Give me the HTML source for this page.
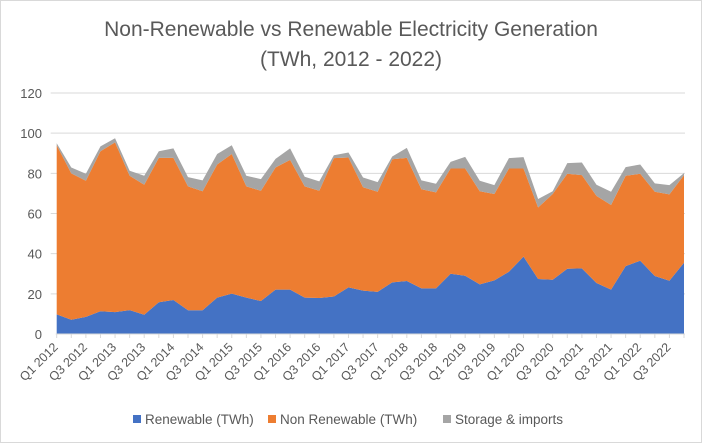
<!DOCTYPE html>
<html><head><meta charset="utf-8"><style>
html,body{margin:0;padding:0;background:#fff;}
svg{display:block;font-family:"Liberation Sans",sans-serif;}
</style></head><body>
<svg id="chart" width="702" height="443" viewBox="0 0 702 443">
<rect x="0.5" y="0.5" width="701" height="442" fill="#fff" stroke="#d9d9d9"/>
<text x="351" y="36" text-anchor="middle" font-size="21" fill="#595959">Non-Renewable vs Renewable Electricity Generation</text>
<text x="351" y="66" text-anchor="middle" font-size="21" fill="#595959">(TWh, 2012 - 2022)</text>
<g id="grid"></g>
<g id="areas"></g>
<g id="axes"></g>
<g id="legend"></g>
</svg>
<script>
const categories = [];
for (let y = 2012; y <= 2022; y++) for (let q = 1; q <= 4; q++) categories.push('Q' + q + ' ' + y);
const renewable = [9.8,7.1,8.5,11.3,10.9,11.9,9.6,15.8,16.9,11.8,11.8,18.1,20.1,18.1,16.4,22.1,22.1,18.1,17.9,18.7,23.2,21.6,21,25.7,26.4,22.7,22.7,30,29,24.7,26.7,31,38.5,27.4,27,32.5,32.7,25.4,22.1,33.8,36.5,28.9,26.5,35.5];
const nonRenewable = [84.2,72.9,67.8,79.7,84.5,66.9,64.7,71.9,70.8,61.7,59.3,66.3,69.5,55.4,54.9,60.8,64.6,55.4,53.4,68.9,64.7,51.5,49.8,61.3,61.3,49.4,47.8,52.4,53.4,46.4,43,51.4,43.9,35.6,42.7,47.3,46.4,43.4,42.1,45,43.3,41.9,43,43.6];
const storage = [1,2.9,3.5,2.4,2.1,2.5,4.5,3.3,4.7,4.6,5.4,5.2,4.4,5.3,5.8,4.3,5.7,4.8,4.7,1.4,2.5,4.8,4.8,1.4,5,4.4,4.3,3.3,5.8,5.2,4.4,5.2,5.7,4.2,1.4,5.3,6.3,5.5,6.6,4.3,4.6,4.2,4.6,1];
const yTicks = [0,20,40,60,80,100,120];
const seriesNames = ['Renewable (TWh)','Non Renewable (TWh)','Storage & imports'];
const colors = ['#4472c4','#ed7d31','#a5a5a5'];

const X0 = 56.7, X1 = 684, Y0 = 334, Y120 = 93;
const xPos = i => X0 + (X1 - X0) * i / (categories.length - 1);
const yPos = v => Y0 - (Y0 - Y120) * v / 120;
const NS = 'http://www.w3.org/2000/svg';
const mk = (tag, attrs, parent) => { const e = document.createElementNS(NS, tag); for (const k in attrs) e.setAttribute(k, attrs[k]); parent.appendChild(e); return e; };

const grid = document.getElementById('grid'), axes = document.getElementById('axes'), areas = document.getElementById('areas'), legend = document.getElementById('legend');
yTicks.forEach(t => {
  if (t > 0) {
    const l = mk('line', {x1: X0 - 6, x2: X1 + 1, y1: yPos(t), y2: yPos(t), stroke: '#d9d9d9', 'stroke-width': 1}, grid);
    
    
  }
  const tx = mk('text', {x: 42, y: yPos(t) + 5, 'text-anchor': 'end', 'font-size': 13, fill: '#595959'}, axes);
  tx.textContent = t;
  
  
});

const stacks = [renewable, nonRenewable, storage];
let base = categories.map(() => 0);
stacks.forEach((s, si) => {
  const top = base.map((b, i) => b + s[i]);
  let d = top.map((v, i) => (i ? 'L' : 'M') + xPos(i).toFixed(2) + ',' + yPos(v).toFixed(2)).join(' ');
  for (let i = categories.length - 1; i >= 0; i--) d += ' L' + xPos(i).toFixed(2) + ',' + yPos(base[i]).toFixed(2);
  const p = mk('path', {d: d + ' Z', fill: colors[si]}, areas);
  
  
  base = top;
});

const axisLine = mk('line', {x1: X0 - 1, x2: X1 + 1, y1: Y0, y2: Y0, stroke: '#d9d9d9'}, axes);


categories.forEach((c, i) => {
  const tk = mk('line', {x1: xPos(i), x2: xPos(i), y1: Y0, y2: Y0 + 4, stroke: '#d9d9d9'}, axes);
  
  
  if (i % 2 === 0) {
    const x = xPos(i) + 2, y = Y0 + 14;
    const t = mk('text', {x: x, y: y, 'text-anchor': 'end', 'font-size': 12.5, fill: '#595959', transform: 'rotate(-45 ' + x + ' ' + y + ')'}, axes);
    t.textContent = c;
    
    
  }
});

const lx = [133, 268, 443];
seriesNames.forEach((n, i) => {
  const g = mk('g', {}, legend);
  
  
  mk('rect', {x: lx[i], y: 415, width: 8, height: 8, fill: colors[i]}, g);
  const t = mk('text', {x: lx[i] + 12, y: 424, 'font-size': 13.5, fill: '#595959'}, g);
  t.textContent = n;
});
</script>
</body></html>
